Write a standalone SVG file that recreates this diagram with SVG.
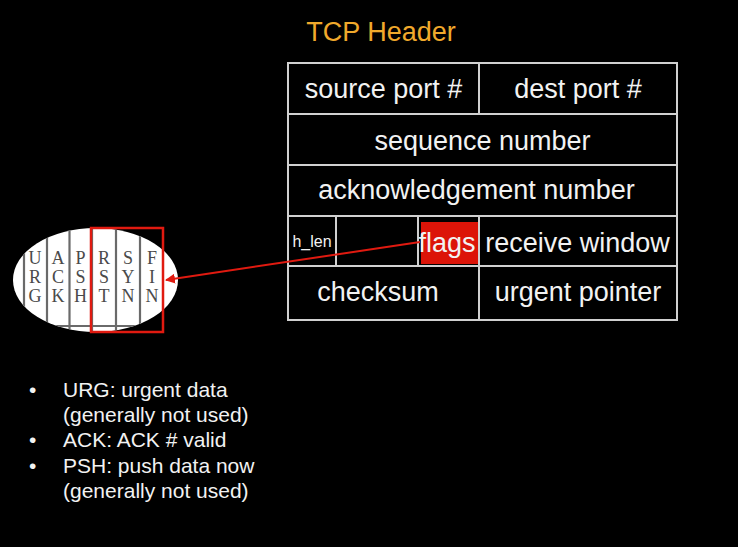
<svg xmlns="http://www.w3.org/2000/svg" width="738" height="547" viewBox="0 0 738 547">
<defs>
<style>
.bg{fill:#000}
.cell{fill:none;stroke:#d0d0d0;stroke-width:2}
.t{font-family:"Liberation Sans",Arial,sans-serif;font-size:27px;fill:#f2f2f2;text-anchor:middle}
.small{font-size:16px}
.b{font-family:"Liberation Sans",Arial,sans-serif;font-size:21px;fill:#f2f2f2}
.fl{font-family:"Liberation Serif","Times New Roman",serif;font-size:18px;fill:#4a4a4a;text-anchor:middle}
.col{stroke:#6a6a6a;stroke-width:2.2}
.red{fill:none;stroke:#e01a10;stroke-width:2.5}
</style>
<clipPath id="oval"><ellipse cx="95.5" cy="280" rx="82.5" ry="52"/></clipPath>
<marker id="ah" viewBox="0 0 10 10" refX="9" refY="5" markerWidth="5" markerHeight="5" orient="auto" markerUnits="strokeWidth">
<path d="M0,0 L10,5 L0,10 z" fill="#e01a10"/>
</marker>
</defs>
<rect class="bg" x="0" y="0" width="738" height="547"/>
<g id="title">
<text x="381" y="41" font-family="Liberation Sans, Arial, sans-serif" font-size="27" fill="#f0a92c" text-anchor="middle">TCP Header</text>
</g>
<g id="header-table">
<rect class="cell" x="288" y="63" width="389" height="257"/>
<line class="cell" x1="288" y1="114" x2="677" y2="114"/>
<line class="cell" x1="288" y1="165" x2="677" y2="165"/>
<line class="cell" x1="288" y1="216" x2="677" y2="216"/>
<line class="cell" x1="288" y1="266" x2="677" y2="266"/>
<line class="cell" x1="479" y1="63" x2="479" y2="114"/>
<line class="cell" x1="479" y1="216" x2="479" y2="320"/>
<line class="cell" x1="336" y1="216" x2="336" y2="266"/>
<line class="cell" x1="418" y1="216" x2="418" y2="266"/>
</g>
<g id="source-port"><text class="t" x="383.5" y="98">source port #</text></g>
<g id="dest-port"><text class="t" x="578" y="98">dest port #</text></g>
<g id="sequence-number"><text class="t" x="482.5" y="150">sequence number</text></g>
<g id="ack-number"><text class="t" x="476.5" y="199">acknowledgement number</text></g>
<g id="h-len"><text class="t small" x="312" y="247">h_len</text></g>
<g id="flags">
<rect x="421" y="222" width="57" height="42" fill="#dc1408"/>
<text class="t" x="447" y="252">flags</text>
</g>
<g id="receive-window"><text class="t" x="577.5" y="252">receive window</text></g>
<g id="checksum"><text class="t" x="378" y="301">checksum</text></g>
<g id="urgent-pointer"><text class="t" x="578" y="301">urgent pointer</text></g>
<g id="flag-bits">
<ellipse cx="95.5" cy="280" rx="82.5" ry="52" fill="#fff"/>
<g clip-path="url(#oval)">
<line class="col" x1="24" y1="226" x2="24" y2="334"/>
<line class="col" x1="47" y1="226" x2="47" y2="334"/>
<line class="col" x1="69.5" y1="226" x2="69.5" y2="334"/>
<line class="col" x1="92" y1="226" x2="92" y2="334"/>
<line class="col" x1="116" y1="226" x2="116" y2="334"/>
<line class="col" x1="140" y1="226" x2="140" y2="334"/>
<line class="col" x1="24" y1="326" x2="163" y2="326"/>
</g>
<text class="fl" x="35" y="264">U</text><text class="fl" x="35" y="283">R</text><text class="fl" x="35" y="302">G</text>
<text class="fl" x="58" y="264">A</text><text class="fl" x="58" y="283">C</text><text class="fl" x="58" y="302">K</text>
<text class="fl" x="80.5" y="264">P</text><text class="fl" x="80.5" y="283">S</text><text class="fl" x="80.5" y="302">H</text>
<text class="fl" x="104" y="264">R</text><text class="fl" x="104" y="283">S</text><text class="fl" x="104" y="302">T</text>
<text class="fl" x="128" y="264">S</text><text class="fl" x="128" y="283">Y</text><text class="fl" x="128" y="302">N</text>
<text class="fl" x="152" y="264">F</text><text class="fl" x="152" y="283">I</text><text class="fl" x="152" y="302">N</text>
<rect class="red" x="91" y="228" width="72" height="104"/>
</g>
<g id="connectors">
<line x1="420" y1="242" x2="166" y2="280" stroke="#e01a10" stroke-width="2" marker-end="url(#ah)"/>
</g>
<g id="notes">
<text class="b" x="29" y="397">•</text><text class="b" x="63" y="397">URG: urgent data</text>
<text class="b" x="63" y="422">(generally not used)</text>
<text class="b" x="29" y="447">•</text><text class="b" x="63" y="447">ACK: ACK # valid</text>
<text class="b" x="29" y="473">•</text><text class="b" x="63" y="473">PSH: push data now</text>
<text class="b" x="63" y="498">(generally not used)</text>
</g>
</svg>
